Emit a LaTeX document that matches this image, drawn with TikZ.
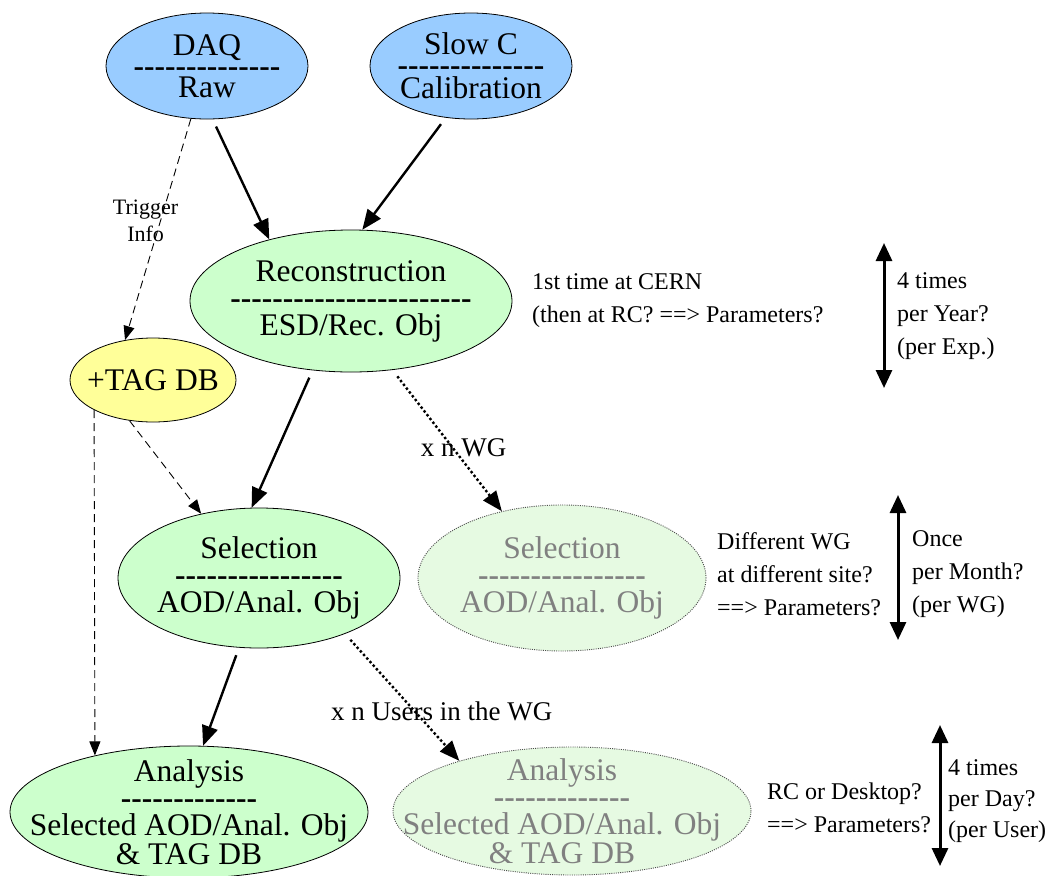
\documentclass[tikz,border=0pt]{standalone}
\usepackage{fontspec}
\setmainfont{Liberation Serif}
\usetikzlibrary{shapes.geometric,arrows.meta}

\definecolor{daqblue}{HTML}{99CCFF}
\definecolor{stagegreen}{HTML}{CCFFCC}
\definecolor{palegreen}{HTML}{E6FAE2}
\definecolor{tagyellow}{HTML}{FFFF99}
\definecolor{fadetext}{HTML}{808080}

% a row of separate bold hyphens (no -- / --- ligatures)
\newcommand\dashloop[1]{\ifnum#1>0 -{}\expandafter\dashloop\expandafter{\the\numexpr#1-1\relax}\fi}
\newcommand\dashrow[1]{\textbf{\dashloop{#1}}}

\tikzset{
  stage/.style={ellipse, draw=black, line width=0.8pt, inner sep=0pt},
  faded/.style={ellipse, draw=black!70, line width=0.9pt, dash pattern=on 1pt off 1.2pt,
                fill=palegreen, inner sep=0pt},
  stagetext/.style={align=center, inner sep=0pt, font=\fontsize{31.5}{27}\selectfont},
  srctext/.style={align=center, inner sep=0pt, font=\fontsize{31.5}{21}\selectfont},
  fadedtext/.style={stagetext, text=fadetext},
  flow/.style={line width=2.4pt, shorten <=8pt, -{Triangle[length=20pt,width=16pt]}},
  weak/.style={line width=0.9pt, dash pattern=on 8pt off 5pt,
               -{Triangle[length=14pt,width=11pt]}},
  multi/.style={line width=2.4pt, dash pattern=on 2.4pt off 2.4pt, shorten <=8pt,
                -{Triangle[length=20pt,width=16pt]}},
  span/.style={line width=3pt,
               {Triangle[length=18pt,width=16pt]}-{Triangle[length=18pt,width=16pt]}},
  note/.style={anchor=west, align=left, inner sep=0pt, font=\fontsize{24}{33}\selectfont},
  edgelbl/.style={inner sep=0pt, font=\fontsize{27}{30}\selectfont},
}

\begin{document}
\begin{tikzpicture}[x=1pt, y=-1pt]
\useasboundingbox (0,0) rectangle (1053,876);

% ---- data sources
\node[stage, fill=daqblue, minimum width=202pt, minimum height=106pt] (daq) at (207,66) {};
\node[srctext] (daqt) at (daq.center) {DAQ\\\dashrow{14}\\Raw};
\node[stage, fill=daqblue, minimum width=202pt, minimum height=106pt] (slowc) at (471,66) {};
\node[srctext] (slowct) at (slowc.center) {Slow C\\\dashrow{14}\\Calibration};

% ---- processing stages
\node[stage, fill=stagegreen, minimum width=322pt, minimum height=142pt] (recon) at (351,301) {};
\node[stagetext] (recont) at (recon.center) {Reconstruction\\\dashrow{23}\\ESD/Rec. Obj};

\node[stage, fill=tagyellow, minimum width=166pt, minimum height=84pt] (tagdb) at (153,380) {};
\node[stagetext] (tagdbt) at (tagdb.center) {+TAG DB};

\node[stage, fill=stagegreen, minimum width=282pt, minimum height=140pt] (selL) at (259,578) {};
\node[stagetext] (selLt) at (selL.center) {Selection\\\dashrow{16}\\AOD/Anal. Obj};

\node[faded, minimum width=288pt, minimum height=146pt] (selR) at (562,578) {};
\node[fadedtext] (selRt) at (selR.center) {Selection\\\dashrow{16}\\AOD/Anal. Obj};

\node[stage, fill=stagegreen, minimum width=358pt, minimum height=132pt] (analL) at (189,812) {};
\node[stagetext] (analLt) at (analL.center) {Analysis\\\dashrow{13}\\Selected AOD/Anal. Obj\\\& TAG DB};

\node[faded, minimum width=358pt, minimum height=128pt] (analR) at (572,811) {};
\node[fadedtext] (analRt) at ([xshift=-10pt]analR.center) {Analysis\\\dashrow{13}\\Selected AOD/Anal. Obj\\\& TAG DB};

% ---- connectors
\draw[flow] (daq.-84) -- (recon.143);
\draw[flow] (slowc.-116) -- (recon.81);
\draw[weak] (daq.-107) -- node[pos=0.46, xshift=-15pt, align=center, inner sep=0pt,
      font=\fontsize{22}{27}\selectfont] (trig) {Trigger\\Info} (tagdb.125);
\draw[flow] (recon.-119) -- (selL.96);
\draw[multi] (recon.-59) -- node[pos=0.55, xshift=11pt, edgelbl] (xwg) {x n WG} (selR.132);
\draw[weak] (tagdb.-120) -- (selL.132);
\draw[weak] (tagdb.-153) -- (analL.149);
\draw[flow] (selL.-106) -- (analL.78);
\draw[multi] (selL.-33.5) -- node[pos=0.61, xshift=27pt, edgelbl] (xusr) {x n Users in the WG} (analR.156);

% ---- annotations on the right
\node[note] (n1) at (532,301) {1st time at CERN\\(then at RC? ==> Parameters?};
\coordinate (yrTop) at (884,243);
\coordinate (yrBot) at (884,388);
\draw[span] (yrTop) -- (yrBot);
\node[note] (n1r) at (897,316) {4 times\\per Year?\\(per Exp.)};

\node[note] (n2) at (717,574) {Different WG\\at different site?\\==> Parameters?};
\coordinate (moTop) at (898,495);
\coordinate (moBot) at (898,640);
\draw[span] (moTop) -- (moBot);
\node[note] (n2r) at (912,574) {Once\\per Month?\\(per WG)};

\node[note] (n3) at (767,808) {RC or Desktop?\\==> Parameters?};
\coordinate (dyTop) at (940,725);
\coordinate (dyBot) at (940,866);
\draw[span] (dyTop) -- (dyBot);
\node[note, font=\fontsize{24}{31}\selectfont] (n3r) at (948,801) {4 times\\per Day?\\(per User)};
\end{tikzpicture}
\end{document}
